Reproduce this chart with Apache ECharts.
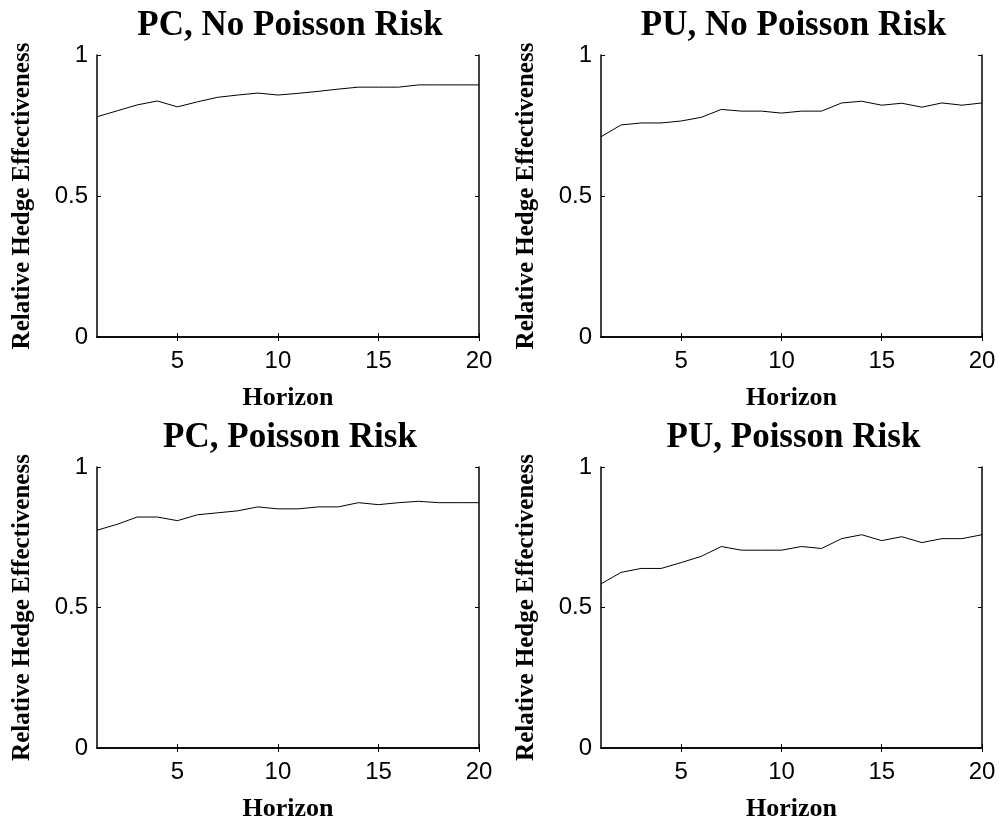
<!DOCTYPE html>
<html>
<head>
<meta charset="utf-8">
<script src="https://cdn.jsdelivr.net/npm/echarts@6/dist/echarts.min.js"></script>
<style>
  html, body { margin: 0; padding: 0; background: #fff; }
  #chart { width: 999px; height: 823px; }
</style>
</head>
<body>
<div id="chart"></div>
<script>
// Forecast horizons 1..20
const horizon = [1, 2, 3, 4, 5, 6, 7, 8, 9, 10, 11, 12, 13, 14, 15, 16, 17, 18, 19, 20];

// Relative hedge effectiveness per panel
const pcNoPoisson = [0.781, 0.802, 0.823, 0.837, 0.816, 0.834, 0.850, 0.858, 0.865, 0.858,
                     0.864, 0.871, 0.879, 0.886, 0.886, 0.886, 0.894, 0.894, 0.894, 0.894];
const puNoPoisson = [0.710, 0.752, 0.759, 0.759, 0.766, 0.779, 0.807, 0.801, 0.801, 0.794,
                     0.801, 0.801, 0.830, 0.836, 0.822, 0.829, 0.815, 0.830, 0.822, 0.830];
const pcPoisson   = [0.775, 0.796, 0.822, 0.822, 0.809, 0.830, 0.837, 0.844, 0.858, 0.851,
                     0.851, 0.858, 0.858, 0.873, 0.866, 0.873, 0.878, 0.873, 0.873, 0.873];
const puPoisson   = [0.584, 0.625, 0.639, 0.639, 0.660, 0.682, 0.717, 0.704, 0.704, 0.704,
                     0.717, 0.710, 0.745, 0.759, 0.738, 0.752, 0.731, 0.745, 0.745, 0.759];

const panelTitles = ['PC, No Poisson Risk', 'PU, No Poisson Risk', 'PC, Poisson Risk', 'PU, Poisson Risk'];
const panelData = [pcNoPoisson, puNoPoisson, pcPoisson, puPoisson];

const xTicks = [5, 10, 15, 20];
const yTicks = [0, 0.5, 1];
const xLabel = 'Horizon';
const yLabel = 'Relative Hedge Effectiveness';

const serif = '"Liberation Serif", "Times New Roman", serif';
const sans = '"Liberation Sans", Arial, sans-serif';

const panels = [
  { left: 97,  top: 55,  width: 382, height: 282 },
  { left: 601, top: 55,  width: 381, height: 282 },
  { left: 97,  top: 467, width: 382, height: 283 },
  { left: 601, top: 467, width: 381, height: 283 }
];

const grid = [], xAxis = [], yAxis = [], series = [], title = [];

panels.forEach((p, i) => {
  grid.push({ left: p.left, top: p.top, width: p.width, height: p.height, containLabel: false });

  title.push({
    text: panelTitles[i],
    left: p.left + p.width / 2 - 3,
    top: p.top - 52,
    textAlign: 'center',
    textStyle: { fontFamily: serif, fontWeight: 'bold', fontSize: 35, color: '#000' }
  });

  const tickStyle = { show: true, inside: true, length: 4, lineStyle: { color: '#000', width: 1 } };
  const lineStyle = { show: true, lineStyle: { color: '#000', width: 1.5 } };

  // bottom axis with labels
  xAxis.push({
    gridIndex: i, type: 'value', min: 1, max: 20, position: 'bottom',
    axisLine: lineStyle,
    axisTick: Object.assign({ customValues: xTicks }, tickStyle),
    axisLabel: { customValues: xTicks, margin: 12, fontFamily: sans, fontSize: 24, color: '#000' },
    splitLine: { show: false },
    name: xLabel, nameLocation: 'middle', nameGap: 48,
    nameTextStyle: { fontFamily: serif, fontWeight: 'bold', fontSize: 26, color: '#000' }
  });
  // top edge of the box
  xAxis.push({
    gridIndex: i, type: 'value', min: 1, max: 20, position: 'top',
    axisLine: lineStyle,
    axisTick: Object.assign({ customValues: xTicks }, tickStyle),
    axisLabel: { show: false }, splitLine: { show: false }
  });
  // left axis with labels
  yAxis.push({
    gridIndex: i, type: 'value', min: 0, max: 1, position: 'left',
    axisLine: lineStyle,
    axisTick: Object.assign({ customValues: yTicks }, tickStyle),
    axisLabel: { customValues: yTicks, margin: 9, fontFamily: sans, fontSize: 24, color: '#000' },
    splitLine: { show: false },
    name: yLabel, nameLocation: 'middle', nameGap: 62, nameRotate: 90,
    nameTextStyle: { fontFamily: serif, fontWeight: 'bold', fontSize: 25, color: '#000' }
  });
  // right edge of the box
  yAxis.push({
    gridIndex: i, type: 'value', min: 0, max: 1, position: 'right',
    axisLine: lineStyle,
    axisTick: Object.assign({ customValues: yTicks }, tickStyle),
    axisLabel: { show: false }, splitLine: { show: false }
  });

  series.push({
    type: 'line',
    xAxisIndex: i * 2,
    yAxisIndex: i * 2,
    data: horizon.map((h, k) => [h, panelData[i][k]]),
    showSymbol: false,
    lineStyle: { color: '#000', width: 1 },
    animation: false
  });
});

const chart = echarts.init(document.getElementById('chart'), null, { renderer: 'canvas' });
chart.setOption({
  backgroundColor: '#fff',
  animation: false,
  title, grid, xAxis, yAxis, series
});
</script>
</body>
</html>
